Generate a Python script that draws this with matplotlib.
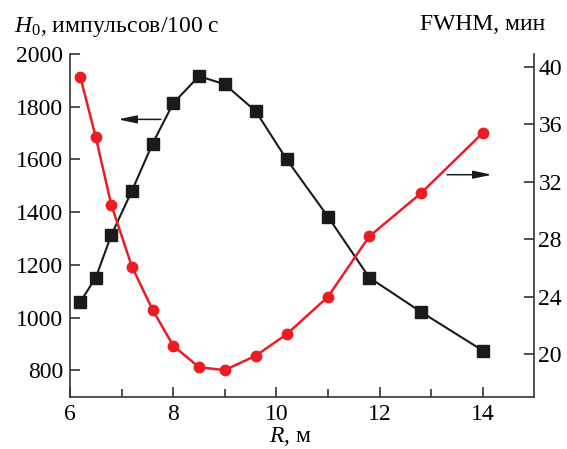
import matplotlib
matplotlib.use('Agg')
import matplotlib.pyplot as plt

plt.rcParams['font.family'] = ['Liberation Serif', 'DejaVu Serif']
plt.rcParams['mathtext.fontset'] = 'custom'
plt.rcParams['mathtext.rm'] = 'Liberation Serif'
plt.rcParams['mathtext.it'] = 'Liberation Serif:italic'

# H0 (black squares, left axis)
r_h = [6.2, 6.5, 6.8, 7.2, 7.6, 8.0, 8.5, 9.0, 9.6, 10.2, 11.0, 11.8, 12.8, 14.0]
h0 = [1060, 1152, 1313, 1481, 1660, 1813, 1916, 1885, 1783, 1600, 1383, 1152, 1022, 875]

# FWHM (red circles, right axis)
r_f = [6.2, 6.5, 6.8, 7.2, 7.6, 8.0, 8.5, 9.0, 9.6, 10.2, 11.0, 11.8, 12.8, 14.0]
fwhm = [39.3, 35.1, 30.4, 26.1, 23.1, 20.6, 19.1, 18.9, 19.9, 21.4, 24.0, 28.2, 31.2, 35.4]

red = '#ec1c24'

fig = plt.figure(figsize=(5.67, 4.49), dpi=100)
ax1 = fig.add_axes([0.1235, 0.1165, 0.8188, 0.7632])
ax2 = ax1.twinx()

ax1.plot(r_h, h0, color='#1a1a1a', lw=1.5, marker='s', ms=8, zorder=3)
ax2.plot(r_f, fwhm, color=red, lw=1.8, marker='o', ms=7.5, zorder=3)

ax1.set_xlim(6, 15)
ax1.set_ylim(700, 2000)
ax2.set_ylim(17.05, 40.9)

ax1.set_xticks([6, 8, 10, 12, 14])
ax1.set_xticks([7, 9, 11, 13], minor=True)
ax1.set_yticks(range(800, 2001, 200))
ax2.set_yticks(range(20, 41, 4))

for a in (ax1, ax2):
    a.spines['top'].set_visible(False)
    for s in a.spines.values():
        s.set_linewidth(1.2)
        s.set_color('#333333')
ax2.spines['left'].set_visible(False)
ax2.spines['bottom'].set_visible(False)
ax1.spines['right'].set_visible(False)

ax1.tick_params(axis='both', which='both', direction='in', labelsize=17,
                width=1.2, color='#333333', pad=5)
ax1.tick_params(axis='x', which='major', length=7)
ax1.tick_params(axis='x', which='minor', length=6)
ax1.tick_params(axis='y', length=7)
ax2.tick_params(axis='y', direction='in', length=7, width=1.2, color='#333333',
                labelsize=17, pad=3)

# arrows pointing to the axes
arrow = dict(arrowstyle='-|>,head_length=0.8,head_width=0.17', color='#1a1a1a',
             lw=1.1, mutation_scale=14, shrinkA=0, shrinkB=0)
ax1.annotate('', xy=(6.93, 1752), xytext=(7.76, 1752), arrowprops=arrow)
ax2.annotate('', xy=(14.18, 32.5), xytext=(13.31, 32.5), arrowprops=arrow)

fig.text(0.024, 0.94, r'$H_0$, импульсов/100 с', fontsize=17, va='center', ha='left')
fig.text(0.962, 0.945, 'FWHM, мин', fontsize=17, va='center', ha='right')
fig.text(0.512, 0.027, r'$R$, м', fontsize=17, va='center', ha='center')

fig.savefig('out.png', dpi=100)
